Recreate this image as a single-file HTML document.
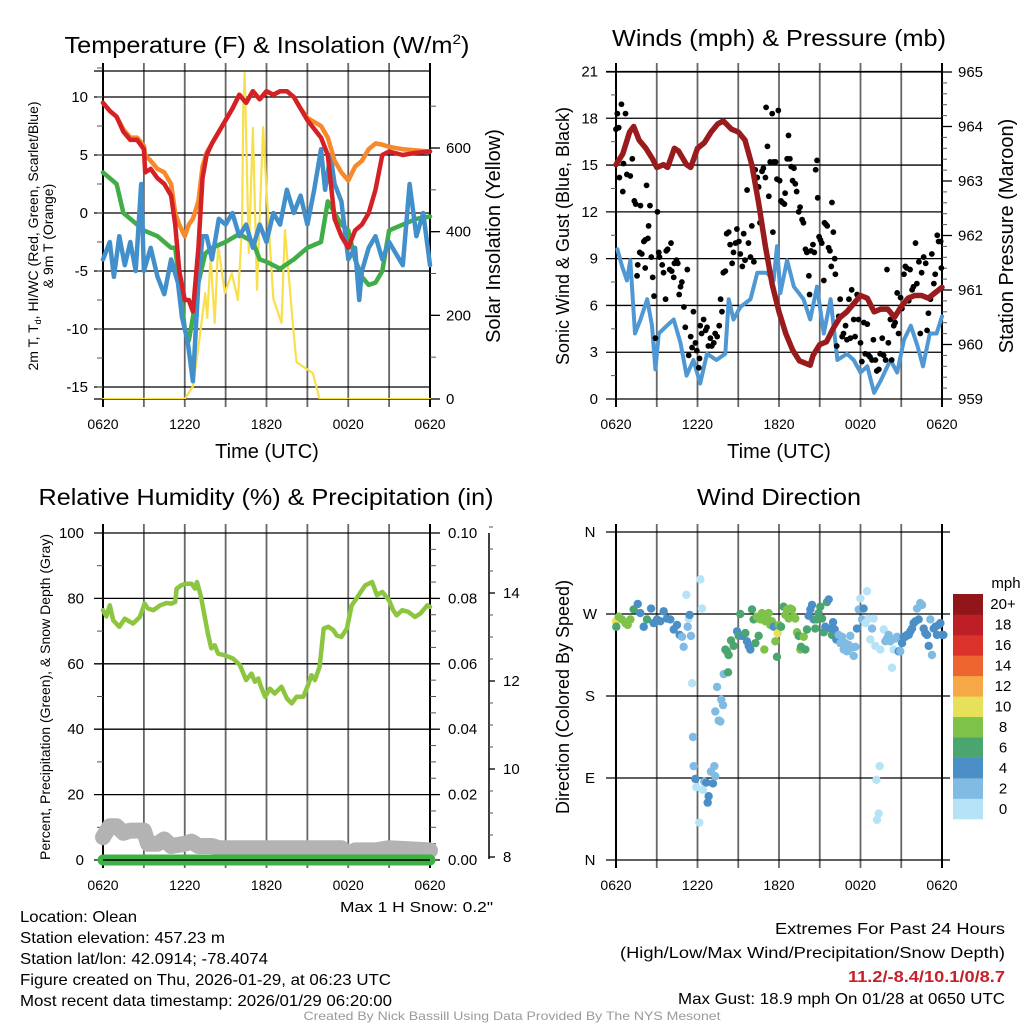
<!DOCTYPE html>
<html><head><meta charset="utf-8"><style>
html,body{margin:0;padding:0;background:#fff}
svg{display:block}
text{font-family:"Liberation Sans",sans-serif;fill:#000}
</style></head><body>
<svg id="fig" width="1024" height="1024" viewBox="0 0 1024 1024" xmlns="http://www.w3.org/2000/svg">
<rect x="0" y="0" width="1024" height="1024" fill="#fff"/>
<g id="layer"></g>
<text x="267" y="53" font-size="23" text-anchor="middle" textLength="405" lengthAdjust="spacingAndGlyphs">Temperature (F) &amp; Insolation (W/m<tspan font-size="14" dy="-9">2</tspan><tspan dy="9">)</tspan></text>
<text x="779" y="46" font-size="23" text-anchor="middle" textLength="334" lengthAdjust="spacingAndGlyphs">Winds (mph) &amp; Pressure (mb)</text>
<text x="266" y="505" font-size="23" text-anchor="middle" textLength="455" lengthAdjust="spacingAndGlyphs">Relative Humidity (%) &amp; Precipitation (in)</text>
<text x="779" y="505" font-size="23" text-anchor="middle" textLength="164" lengthAdjust="spacingAndGlyphs">Wind Direction</text>
<text x="267" y="458" font-size="20" text-anchor="middle">Time (UTC)</text>
<text x="779" y="458" font-size="20" text-anchor="middle">Time (UTC)</text>
<text transform="translate(38,236) rotate(-90)" font-size="14" text-anchor="middle">2m T, T<tspan font-size="9" dy="3">d</tspan><tspan dy="-3">, HI/WC (Red, Green, Scarlet/Blue)</tspan></text>
<text transform="translate(53,236) rotate(-90)" font-size="14" text-anchor="middle">&amp; 9m T (Orange)</text>
<text transform="translate(500,236) rotate(-90)" font-size="20" text-anchor="middle">Solar Insolation (Yellow)</text>
<text transform="translate(569,236) rotate(-90)" font-size="18" text-anchor="middle">Sonic Wind &amp; Gust (Blue, Black)</text>
<text transform="translate(1013,236) rotate(-90)" font-size="20" text-anchor="middle">Station Pressure (Maroon)</text>
<text transform="translate(50,697) rotate(-90)" font-size="14" text-anchor="middle">Percent, Precipitation (Green), &amp; Snow Depth (Gray)</text>
<text transform="translate(569,697) rotate(-90)" font-size="18" text-anchor="middle">Direction (Colored By Speed)</text>
<text x="493" y="912" font-size="15" text-anchor="end" fill="#333" textLength="153" lengthAdjust="spacingAndGlyphs">Max 1 H Snow: 0.2"</text>
<g font-size="16">
<text x="20" y="922" textLength="117" lengthAdjust="spacingAndGlyphs">Location: Olean</text>
<text x="20" y="943" textLength="205" lengthAdjust="spacingAndGlyphs">Station elevation: 457.23 m</text>
<text x="20" y="964" textLength="248" lengthAdjust="spacingAndGlyphs">Station lat/lon: 42.0914; -78.4074</text>
<text x="20" y="985" textLength="371" lengthAdjust="spacingAndGlyphs">Figure created on Thu, 2026-01-29, at 06:23 UTC</text>
<text x="20" y="1006" textLength="372" lengthAdjust="spacingAndGlyphs">Most recent data timestamp: 2026/01/29 06:20:00</text>
</g>
<g font-size="16" text-anchor="end">
<text x="1005" y="934" textLength="230" lengthAdjust="spacingAndGlyphs">Extremes For Past 24 Hours</text>
<text x="1005" y="958" textLength="385" lengthAdjust="spacingAndGlyphs">(High/Low/Max Wind/Precipitation/Snow Depth)</text>
<text x="1005" y="982" textLength="157" lengthAdjust="spacingAndGlyphs" font-weight="bold" style="fill:#c8202a">11.2/-8.4/10.1/0/8.7</text>
<text x="1005" y="1004" textLength="327" lengthAdjust="spacingAndGlyphs">Max Gust: 18.9 mph On 01/28 at 0650 UTC</text>
</g>
<text x="512" y="1020" font-size="12" text-anchor="middle" style="fill:#9a9a9a" textLength="417" lengthAdjust="spacingAndGlyphs">Created By Nick Bassill Using Data Provided By The NYS Mesonet</text>
</svg>
<script>
// ---------- data (hours since 0620 UTC) ----------
const xTickLabels = ["0620","1220","1820","0020","0620"];
const tempTicks = [10,5,0,-5,-10,-15];
const insolTicks = [0,200,400,600];
const windTicks = [0,3,6,9,12,15,18,21];
const presTicks = [959,960,961,962,963,964,965];
const rhTicks = [0,20,40,60,80,100];
const precipTicks = ["0.00","0.02","0.04","0.06","0.08","0.10"];
const snowTicks = [8,10,12,14];
const dirTicks = ["N","E","S","W","N"];
const speedBins = ["0","2","4","6","8","10","12","14","16","18","20+"];

const tH = [0,0.5,1,1.5,2,2.5,3,3.1,3.5,4,4.5,5,5.3,5.6,6,6.3,6.6,7,7.3,7.6,8,8.5,9,9.5,10,10.5,11,11.5,12,12.5,13,13.5,14,14.5,15,16,16.5,17,17.5,18,18.5,19,19.5,20,20.5,21,22,23,24];
const tempRed = [9.5,8.8,8.3,7,6.3,6.3,5.5,3.5,3.8,3,2.5,1.5,-1,-5,-7.5,-7.5,-8.5,-3,3,5,6,7,8,9,10.2,9.5,10.5,9.8,10.5,10.2,10.5,10.5,10,9,8,6.5,5,-0.5,-2,-3,-1.5,-1,0,2,5,5.3,5,5.2,5.3];
const temp9m = [9.5,8.8,8.3,7.2,6.5,6.5,5.8,5,4.5,3.8,3.5,2.5,0,-1,-2,-1,-0.5,1,4,5.2,6,7,8,9,10.2,9.5,10.5,9.8,10.5,10.2,10.5,10.5,10,9,8.2,7.5,6.5,4.5,3.5,2.8,4,4.5,5.5,6,5.9,5.7,5.5,5.4,5.3];
const dH = [0,0.5,1,1.5,2,3,4,5,5.3,5.6,6,6.3,6.6,7,7.5,8,9,10,11,11.5,12,13,14,15,16,16.5,17,17.5,18,18.5,19,19.5,20,20.5,21,22,23,24];
const dewpt = [3.5,3,2.5,0,-0.5,-1.5,-2,-3,-3,-6,-10,-11,-9,-6,-3.5,-3,-2.5,-1.8,-2.5,-4,-4.2,-4.8,-4,-3,-2.5,1,0,-1,-1.5,-4,-5.5,-6.2,-6,-5,-1.5,-1,-0.5,-0.3];
const wcH = [0,0.5,0.8,1.2,1.6,2,2.4,2.8,3,3.5,4,4.5,5,5.5,5.8,6.2,6.6,7,7.3,7.6,8,8.5,9,9.5,10,10.5,11,11.5,12,12.5,13,13.5,14,14.5,15,15.5,16,16.3,16.7,17,17.5,18,18.5,18.8,19,19.5,20,20.5,21,22,22.5,23,23.5,24];
const windChill = [-4,-2.5,-5.5,-2,-4.5,-2.5,-5,2.5,-5,-3,-5.5,-7,-4,-6,-9,-11,-14.5,-6,-2,-2,-4,-0.5,-1,0,-2,-1,-3,-1,-2.5,0,-1,2,0,1.5,-1,2,5.5,2,5,2.5,1,-4,-3,-7.5,-5,-3,-2,-4,-2.5,-4.5,2.5,-2,0,-4.5];
const solH = [0,6.0,6.6,7.1,7.5,7.65,7.9,8.2,8.45,8.95,9.45,9.9,10.2,10.3,10.4,10.7,11.0,11.3,11.75,12.0,12.5,13.1,13.35,13.95,14.2,15.4,15.9,24];
const solar = [0,0,30,148,253,194,340,182,368,253,301,237,411,700,779,349,648,261,650,500,240,182,404,172,88,62,0,0];

const pH = [0,0.5,1,1.3,1.7,2.2,2.7,3,3.5,3.8,4.3,4.6,5.2,5.5,6,6.5,7,7.5,7.9,8.5,9,9.5,10,10.5,11,11.5,12,12.5,13,13.5,14.3,14.5,15,15.5,16,16.5,17,17.5,18,18.5,19,19.5,20,20.5,21,21.5,22,22.5,23,23.5,24];
const pressure = [963.3,963.5,963.9,964.0,963.75,963.6,963.4,963.25,963.3,963.25,963.6,963.55,963.3,963.25,963.6,963.7,963.9,964.05,964.1,963.95,963.9,963.75,963.3,962.6,961.8,961.1,960.6,960.2,959.9,959.7,959.62,959.8,960.0,960.05,960.3,960.5,960.6,960.75,960.9,960.85,960.6,960.65,960.65,960.5,960.7,960.85,960.9,960.9,960.85,960.95,961.05];
const wH = [0.1,0.45,0.8,1.05,1.4,1.8,2.3,2.65,2.9,3.15,3.75,4.25,4.75,5.2,5.7,6.2,6.7,7.4,8.05,8.3,8.65,9.15,9.9,10.4,11.1,11.6,11.85,12.1,12.6,13.1,13.8,14.3,14.8,15.3,15.8,16.3,17.0,17.5,18.0,18.5,19.0,19.5,20.2,20.7,21.2,21.7,22.2,22.6,23.1,23.6,24];
const windSpd = [9.6,8.5,7.6,8.9,4.2,5.1,6.4,4.7,1.9,4.2,4.7,5.1,3.6,1.5,2.5,1.0,2.9,2.5,2.9,6.4,5.1,5.9,6.4,8.1,8.1,7.6,9.8,6.8,8.9,7.2,6.4,5.1,7.2,4.2,6.4,2.5,2.9,2.5,1.7,2.1,0.4,1.2,2.5,1.7,3.8,4.7,3.4,2.1,4.2,4.2,5.3];
const gustH = [0,0.1,0.2,0.4,0.7,0.25,0.55,0.5,0.8,1.05,1.2,1.35,1.45,1.8,1.55,1.6,1.75,1.9,2.05,2.15,2.35,2.25,2.4,2.5,2.15,2.6,2.7,2.8,2.9,3.05,3.15,3.2,3.4,3.5,3.65,3.7,3.8,3.95,4.05,4.1,4.25,4.3,4.45,4.55,4.65,4.75,4.85,5.0,5.1,5.25,5.35,5.5,5.6,5.7,5.85,5.95,6.1,6.15,6.2,6.3,6.45,6.6,6.7,6.8,6.95,7.05,7.2,7.3,7.45,7.6,7.7,7.8,7.9,8.05,8.15,8.3,8.4,8.55,8.65,8.8,8.9,9.05,9.15,9.3,9.4,9.5,9.65,9.75,9.9,10.0,10.15,10.25,10.4,10.5,10.6,10.75,10.85,11.0,11.05,11.15,11.25,11.35,11.5,11.55,11.6,11.75,11.85,11.95,12.05,12.15,12.25,12.4,12.45,12.6,12.7,12.8,12.9,13.0,13.1,13.2,13.3,13.45,13.55,13.7,13.8,13.95,14.05,14.2,14.25,14.35,14.5,14.6,14.7,14.8,14.85,14.95,15.05,15.15,15.3,15.35,15.45,15.55,15.65,15.75,15.85,15.9,16.0,16.1,16.15,16.25,16.4,16.5,16.65,16.75,16.9,17.0,17.15,17.25,17.35,17.5,17.6,17.75,17.85,18.0,18.1,18.25,18.35,18.5,18.6,18.7,18.85,18.95,19.1,19.2,19.35,19.45,19.6,19.7,19.85,19.95,20.05,20.2,20.3,20.45,20.55,20.7,20.8,20.95,21.05,21.2,21.3,21.4,21.55,21.65,21.8,21.9,22.05,22.15,22.3,22.4,22.5,22.65,22.8,22.9,23.0,23.15,23.25,23.4,23.5,23.65,23.75,23.9,23.95];
const gustSpd = [17.3,18.3,17.4,18.9,18.3,14.2,15.1,13.3,14.4,14.3,15.4,12.7,12.5,12.4,7.9,8.6,9.4,9.3,10.1,10.2,10.3,13.7,11.1,12.4,8.4,9.1,7.8,6.6,3.9,12.0,9.4,9.1,8.6,8.1,6.4,9.5,9.6,8.3,10.0,8.2,7.8,8.7,8.9,8.7,6.7,7.2,7.5,5.9,4.6,8.3,2.8,4.0,3.3,5.6,3.6,3.1,2.0,2.6,4.7,4.2,5.1,4.4,4.6,3.4,3.9,3.4,3.6,4.2,4.0,4.7,6.4,5.6,8.1,8.2,10.6,10.7,9.9,8.7,9.4,10.0,10.9,10.1,9.3,8.5,10.6,8.9,13.4,10.0,9.1,11.1,8.8,14.7,14.2,13.6,11.3,14.6,14.8,14.2,18.7,16.2,13.0,15.2,18.3,10.7,15.2,15.2,14.1,18.5,14.0,12.7,12.6,12.5,13.2,15.4,16.9,15.4,14.9,14.0,14.8,13.8,13.3,12.0,12.3,11.5,11.3,9.6,9.4,7.9,6.7,9.5,9.9,9.4,14.7,15.3,12.9,10.4,10.2,10.0,7.6,11.3,11.2,11.1,9.7,9.5,8.5,12.6,10.7,9.0,8.0,3.4,5.3,6.4,4.0,4.2,4.7,3.8,6.4,3.9,7.0,5.1,4.0,6.7,5.1,3.6,2.4,4.9,2.9,4.8,2.8,2.7,2.5,3.8,2.5,1.8,1.9,2.9,3.9,2.8,2.5,8.3,3.6,5.1,2.5,4.7,4.9,6.8,4.2,6.5,5.8,8.0,8.5,8.4,6.3,8.3,7.0,7.2,10.0,7.4,8.8,4.2,8.1,9.1,8.7,4.4,5.5,6.4,9.3,7.4,8.0,10.5,10.1,10.1,8.4];

const rhH = [0,0.25,0.5,0.75,1.2,1.6,2.2,2.7,3.05,3.3,3.7,4.2,4.65,5.0,5.3,5.4,5.75,6.1,6.5,6.75,6.9,7.2,7.4,7.7,7.95,8.2,8.45,8.95,9.55,10.05,10.5,10.9,11.15,11.4,11.6,11.9,12.25,12.6,13.1,13.5,13.85,14.2,14.7,15.1,15.3,15.55,15.9,16.2,16.55,16.9,17.15,17.5,17.9,18.25,18.6,19.0,19.25,19.75,20.1,20.5,21.0,21.3,21.55,21.95,22.4,22.9,23.3,23.8,24];
const relHum = [76.4,74.5,77.9,73.3,71.3,73.8,72.3,74.3,78.4,76.9,76.4,77.9,78.6,78.4,78.9,83.0,84.0,84.5,84.5,83.0,85.0,80.4,75.9,69.2,64.7,65.7,63.1,62.6,61.6,59.6,55.0,57.0,54.5,55.5,53.0,49.9,52.4,50.9,53.0,49.4,47.9,49.9,49.9,54.0,56.5,55.0,59.1,70.8,71.3,70.3,68.7,68.2,70.8,77.9,79.9,82.5,84.0,85.0,81.0,82.0,79.4,76.4,74.8,76.4,75.9,74.3,75.4,77.9,77.4];
const precipH = [0,24];
const precip = [0,0];
const snowH = [0,0.5,1,1.5,2,2.5,3,3.3,4,4.5,5,6,6.5,7,8,8.5,10,12,14,16,17.5,18,18.5,20,21,24];
const snowDepth = [8.45,8.7,8.7,8.55,8.6,8.6,8.6,8.3,8.3,8.4,8.25,8.3,8.35,8.25,8.25,8.2,8.2,8.2,8.2,8.2,8.2,8.05,8.15,8.15,8.2,8.15];

const dirH = [0,0.02,0.2,0.44,0.69,0.86,1.06,1.3,1.6,1.79,2.04,2.28,2.58,2.77,3.02,3.26,3.51,3.75,4.0,4.25,4.49,4.69,4.86,4.98,5.18,5.35,5.42,5.28,5.52,5.6,5.67,5.72,5.84,5.91,6.13,6.21,6.33,6.4,6.5,6.65,6.75,6.82,6.99,7.14,7.24,7.31,7.44,7.31,7.56,7.68,7.75,7.88,7.93,8.05,8.17,8.29,8.25,8.47,8.66,8.91,9.03,9.15,9.28,9.52,9.64,9.77,9.89,10.01,10.13,10.26,10.38,10.5,10.63,10.75,10.92,10.99,11.12,11.24,11.36,11.48,11.61,11.73,11.85,11.9,11.98,12.15,12.34,12.47,12.59,12.71,12.83,12.96,13.08,13.2,13.33,13.45,13.57,13.62,13.82,13.94,14.06,14.18,14.31,14.43,14.55,14.67,14.75,14.92,15.04,15.17,15.29,15.41,15.53,15.66,15.78,15.9,15.98,16.1,16.22,16.39,16.52,16.64,16.76,16.88,17.01,17.13,17.25,17.37,17.5,17.62,17.74,17.87,17.99,18.11,18.23,18.36,18.48,18.6,18.72,18.85,18.97,19.09,19.17,19.21,19.34,19.41,19.46,19.71,19.83,19.95,20.07,20.2,20.32,20.44,20.56,20.69,20.81,20.93,21.06,21.18,21.3,21.42,21.55,21.67,21.79,21.91,22.04,22.16,22.28,22.4,22.53,22.65,22.77,22.9,23.02,23.14,23.26,23.39,23.51,23.63,23.75,23.88,24.0,24.1];
const dirDeg = [262,256,267,264,260,258,264,275,281,271,256,264,276,260,264,262,273,265,264,253,258,247,245,234,291,265,269,256,246,194,135,103,89,80,41,308,276,77,86,85,63,70,97,84,103,92,190,163,153,152,176,170,204,231,229,225,206,241,235,251,246,270,246,249,240,235,231,275,264,238,267,246,264,271,231,262,267,271,258,262,256,240,223,249,258,256,278,269,275,265,276,275,267,265,250,246,231,234,245,231,253,268,275,280,264,254,264,271,278,265,250,256,283,286,254,247,261,253,242,247,238,245,231,238,229,236,246,233,224,234,254,275,287,264,276,260,295,265,242,254,265,235,88,44,51,103,231,253,240,243,247,240,211,231,243,245,229,229,238,245,245,247,247,251,254,260,262,276,264,282,280,254,249,247,235,264,225,254,256,247,258,260,247,247];
const dirSpd = [10.5,7,9,9,9,9,9,7,5,5,5,7,5,5,5,5,5,5,5,5,5,5,3,3,1,1,5,3,3,1,3,3,5,1,1,1,1,1,3,5,5,5,3,5,3,3,3,3,3,3,3,3,3,7,7,7,7,7,7,5,7,7,5,7,5,5,5,7,7,7,9,7,9,9,9,9,9,9,9,9,5,9,7,10.5,9,7,7,9,9,9,9,9,9,9,9,7,9,7,9,7,7,5,5,5,5,7,7,7,7,7,7,5,7,5,5,7,5,5,5,3,3,3,3,3,3,3,3,3,3,3,5,3,1,3,5,1,1,1,1,3,1,1,1,1,1,1,1,1,3,3,3,3,1,1,3,3,5,3,5,5,5,5,5,5,5,5,5,3,5,3,3,5,5,5,5,3,3,5,5,5,5,5,5,5];

const binColors = ["#b7e3f7","#80bbe3","#4b8fc6","#4aa56f","#7fc24a","#e6e05a","#f5a845","#ef6530","#db3329","#be1e26","#921619"];

// ---------- helpers ----------
const NS = "http://www.w3.org/2000/svg";
const layer = document.getElementById("layer");
function mk(tag, attrs, parent){
  const el = document.createElementNS(NS, tag);
  for (const k in attrs) el.setAttribute(k, attrs[k]);
  (parent || layer).appendChild(el);
  return el;
}
function pathOf(xs, ys, fx, fy){
  let d = "";
  for (let i = 0; i < xs.length; i++) d += (i ? "L" : "M") + fx(xs[i]).toFixed(1) + "," + fy(ys[i]).toFixed(1);
  return d;
}

const L1 = 103, R1 = 430, L2 = 616, R2 = 942, T1 = 71, B1 = 399, T2 = 532, B2 = 860;
const x1 = h => L1 + h * (R1 - L1) / 24;
const x2 = h => L2 + h * (R2 - L2) / 24;
const yTemp = t => 213 - t * 11.6;
const ySol = v => B1 - v * 0.4183;
const yWind = w => B1 - w * (B1 - T1 - 0.5) / 21;
const yPres = p => B1 - (p - 959) * 54.5;
const yRH = r => B2 - r * 3.27;
const yPrec = p => B2 - p * 3270;
const ySnow = s => 857 - (s - 8) * 44;
const yDir = d => B2 - d * (B2 - T2) / 360;
function binOf(s){ return Math.min(10, Math.max(0, Math.floor(s / 2))); }

function frame(L, R, T, B, xf, name, gridYs, gridLeft, gridRight){
  const g = mk("g", {});
  
  
  for (let k = 0; k <= 8; k++){
    const x = xf(k * 3);
    const v = mk("line", {x1:x, y1:T-8, x2:x, y2:B+8, stroke:(k===0||k===8)?"#000":"#666", "stroke-width":(k===0||k===8)?2:1.8}, g);
    
    
  }
  for (const y of gridYs){
    const h = mk("line", {x1:gridLeft, y1:y, x2:gridRight, y2:y, stroke:"#000", "stroke-width":1.3}, g);
    
    
  }
  for (let k = 0; k < 5; k++){
    const t = mk("text", {x:xf(k*6), y:B + 30, "font-size":14, "text-anchor":"middle"}, g);
    t.textContent = xTickLabels[k];
    
    
  }
  return g;
}
function minorTicks(x, from, to, step, f, len, g){
  for (let v = from; v <= to + 1e-9; v += step){
    const y = f(v);
    const m = mk("line", {x1:x, y1:y, x2:x+len, y2:y, stroke:"#555", "stroke-width":1}, g);
    
    
  }
}
function tickLabel(x, y, txt, anchor, g, name){
  const t = mk("text", {x:x, y:y + 5, "font-size":15, "text-anchor":anchor}, g);
  t.textContent = txt;
  
  
}

// ---------- Panel 1: temperature ----------
{
  const g = frame(L1, R1, T1, B1, x1, "temperature-chart", [T1, B1].concat(tempTicks.map(yTemp)), 94, R1);
  minorTicks(L1, -15, 12.5, 2.5, yTemp, -6, g);
  for (const t of tempTicks) tickLabel(88, yTemp(t), String(t), "end", g, "temp-tick-label");
  minorTicks(R1, 0, 780, 100, ySol, 6, g);
  for (const v of insolTicks){
    const tk = mk("line", {x1:R1, y1:ySol(v), x2:R1+10, y2:ySol(v), stroke:"#000", "stroke-width":1.3}, g);
    
    
    tickLabel(446, ySol(v), String(v), "start", g, "insolation-tick-label");
  }
  const clip = mk("clipPath", {id:"c1"});
  mk("rect", {x:L1-3, y:T1-3, width:R1-L1+6, height:B1-T1+3}, clip);
  const s = mk("g", {"clip-path":"url(#c1)", fill:"none", "stroke-linejoin":"round", "stroke-linecap":"round"});
  const sol = mk("path", {d:pathOf(solH, solar, x1, ySol), stroke:"#f8df4c", "stroke-width":2.2}, s);
  
  
  const dw = mk("path", {d:pathOf(dH, dewpt, x1, yTemp), stroke:"#41ad48", "stroke-width":4.5}, s);
  
  
  const wc = mk("path", {d:pathOf(wcH, windChill, x1, yTemp), stroke:"#4290cb", "stroke-width":4.5}, s);
  
  
  const o = mk("path", {d:pathOf(tH, temp9m, x1, yTemp), stroke:"#f6892c", "stroke-width":4.5}, s);
  
  
  const r = mk("path", {d:pathOf(tH, tempRed, x1, yTemp), stroke:"#d42126", "stroke-width":4.5}, s);
  
  
}

// ---------- Panel 2: winds ----------
{
  const g = frame(L2, R2, T1, B1, x2, "wind-chart", [T1+1].concat(windTicks.map(yWind)), 606, R2);
  minorTicks(L2, 1.5, 19.5, 3, yWind, -5, g);
  for (const w of windTicks) tickLabel(598, yWind(w), String(w), "end", g, "wind-tick-label");
  minorTicks(R2, 959, 965, 0.2, yPres, 5, g);
  for (const p of presTicks){
    const tk = mk("line", {x1:R2, y1:yPres(p), x2:R2+10, y2:yPres(p), stroke:"#000", "stroke-width":1.3}, g);
    
    
    tickLabel(958, yPres(p), String(p), "start", g, "pressure-tick-label");
  }
  const clip = mk("clipPath", {id:"c2"});
  mk("rect", {x:L2-4, y:T1-4, width:R2-L2+8, height:B1-T1+4}, clip);
  const s = mk("g", {"clip-path":"url(#c2)", fill:"none", "stroke-linejoin":"round", "stroke-linecap":"round"});
  const bl = mk("path", {d:pathOf(wH, windSpd, x2, yWind), stroke:"#4f98d3", "stroke-width":4}, s);
  
  
  const gd = mk("g", {fill:"#000"}, s);
  
  
  for (let i = 0; i < gustH.length; i++){
    const c = mk("circle", {cx:x2(gustH[i]), cy:yWind(gustSpd[i]), r:2.9}, gd);
    
    
  }
  const pr = mk("path", {d:pathOf(pH, pressure, x2, yPres), stroke:"#991b1e", "stroke-width":5.5}, s);
  
  
}

// ---------- Panel 3: RH & precip ----------
{
  const g = frame(L1, R1, T2, B2, x1, "humidity-chart", rhTicks.map(yRH), 94, R1);
  minorTicks(L1, 10, 90, 20, yRH, -6, g);
  rhTicks.forEach(r => tickLabel(84, yRH(r), String(r), "end", g, "rh-tick-label"));
  minorTicks(R1, 0.005, 0.1, 0.005, yPrec, 6, g);
  precipTicks.forEach((p, i) => {
    const y = yPrec(+p);
    const tk = mk("line", {x1:R1, y1:y, x2:R1+10, y2:y, stroke:"#000", "stroke-width":1.3}, g);
    
    
    tickLabel(448, y, p, "start", g, "precip-tick-label");
  });
  const ax = mk("line", {x1:489, y1:533, x2:489, y2:859, stroke:"#000", "stroke-width":1.5}, g);
  
  
  minorTicks(489, 8, 15.5, 0.5, ySnow, 4, g);
  for (const s of snowTicks){
    const tk = mk("line", {x1:489, y1:ySnow(s), x2:495, y2:ySnow(s), stroke:"#000", "stroke-width":1.3}, g);
    
    
    tickLabel(503, ySnow(s), String(s), "start", g, "snow-tick-label");
  }
  const s = mk("g", {fill:"none", "stroke-linejoin":"round", "stroke-linecap":"round"});
  const sn = mk("path", {d:pathOf(snowH, snowDepth, x1, ySnow), stroke:"#b3b3b3", "stroke-width":16}, s);
  
  
  const pc = mk("path", {d:pathOf(precipH, precip, x1, yPrec), stroke:"#3db143", "stroke-width":11}, s);
  
  
  const rh = mk("path", {d:pathOf(rhH, relHum, x1, yRH), stroke:"#8cc640", "stroke-width":4.5}, s);
  
  
  const bx = mk("line", {x1:L1, y1:B2, x2:R1, y2:B2, stroke:"#000", "stroke-width":1.5});
  
  
}

// ---------- Panel 4: wind direction ----------
{
  const ys = [0,90,180,270,360].map(yDir);
  const g = frame(L2, R2, T2, B2, x2, "direction-chart", ys, 606, 950);
  dirTicks.forEach((lab, i) => tickLabel(590, yDir(i*90), lab, "middle", g, "direction-tick-label"));
  const d = mk("g", {});
  
  
  for (let i = 0; i < dirH.length; i++){
    const c = mk("circle", {cx:x2(dirH[i]), cy:yDir(dirDeg[i]), r:4.2, fill:binColors[binOf(dirSpd[i])]}, d);
    
    
  }
  const cb = mk("g", {});
  
  
  const bh = (819 - 594) / speedBins.length;
  speedBins.forEach((lab, i) => {
    const y = 819 - (i + 1) * bh;
    const r = mk("rect", {x:953, y:y, width:30, height:bh + 0.3, fill:binColors[i]}, cb);
    
    
    tickLabel(1003, y + bh/2, lab, "middle", cb, "colorbar-label");
  });
  const u = mk("text", {x:1006, y:588, "font-size":15, "text-anchor":"middle"}, cb);
  u.textContent = "mph";
  
  
}
</script>
</body></html>
